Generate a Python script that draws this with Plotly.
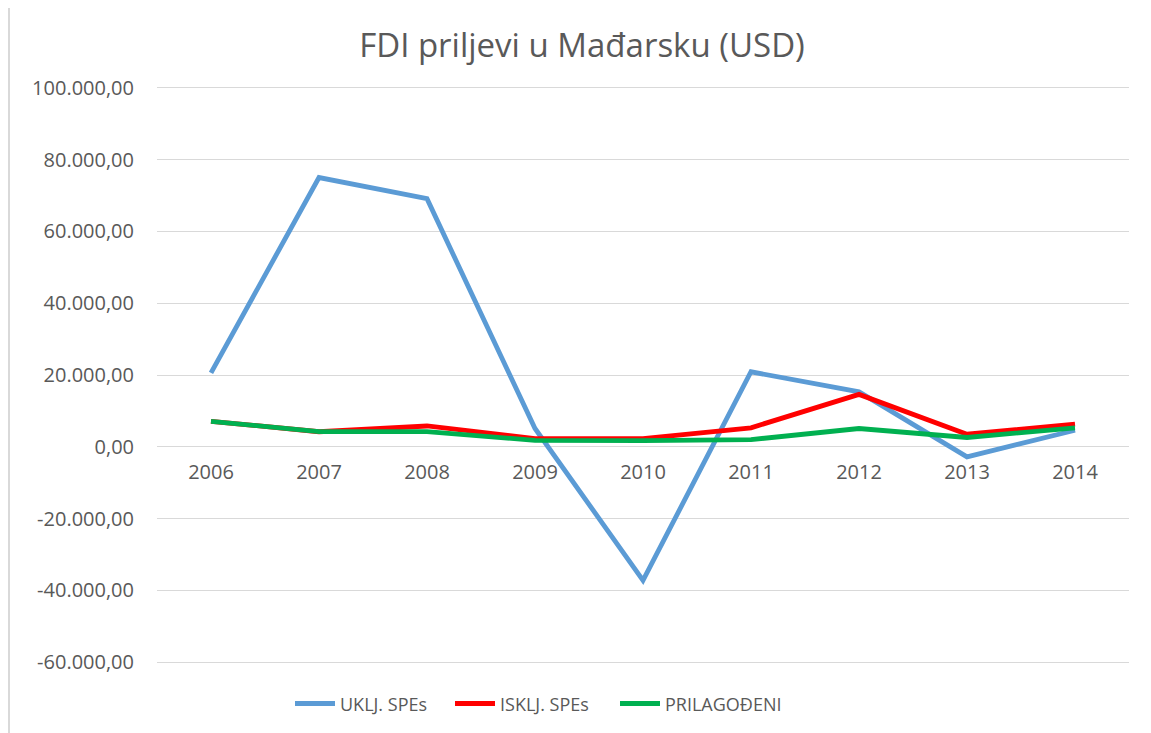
import plotly.graph_objs as go

years = ['2006', '2007', '2008', '2009', '2010', '2011', '2012', '2013', '2014']

uklj_spes = [20600, 75000, 69100, 5100, -37200, 20900, 15300, -2800, 4600]
isklj_spes = [7100, 4200, 5800, 2300, 2300, 5300, 14600, 3500, 6300]
prilagodjeni = [7100, 4200, 4200, 1800, 1700, 2000, 5100, 2600, 5300]

series_names = ['UKLJ. SPEs', 'ISKLJ. SPEs', 'PRILAGOĐENI']
series_colors = ['#5B9BD5', '#FF0000', '#00B050']

y_tickvals = [-60000, -40000, -20000, 0, 20000, 40000, 60000, 80000, 100000]


def fmt(v):
    # 100.000,00 style
    s = '{:,.2f}'.format(v)
    return s.replace(',', 'X').replace('.', ',').replace('X', '.')


y_ticktext = [fmt(v) for v in y_tickvals]

font_family = 'Open Sans, DejaVu Sans, sans-serif'
grey = '#595959'

# one legend per series so the entries can be spaced like the original
legend_ids = ['legend', 'legend2', 'legend3']
legend_left_px = [290, 450, 615]

traces = []
for name, vals, col, lg in zip(series_names, [uklj_spes, isklj_spes, prilagodjeni], series_colors, legend_ids):
    traces.append(go.Scatter(x=years, y=vals, name=name, mode='lines', legend=lg,
                             line=dict(color=col, width=4.8)))

# small padding so the end gridlines are not clipped
pad = 500
ymin, ymax = -60000 - pad, 100000 + pad
px_per_unit = 574 / 160000
pad_px = pad * px_per_unit
plot_h = 574 + 2 * pad_px

# page body adds 8px offset, so margins are compensated
layout = go.Layout(
    width=1143, height=725,
    paper_bgcolor='white', plot_bgcolor='white',
    margin=dict(l=149, r=22, t=80 - pad_px, b=71 - pad_px, autoexpand=False),
    title=dict(text='FDI priljevi u Mađarsku (USD)', x=(582 - 8) / 1143, xanchor='center',
               y=1 - 37 / 725, yanchor='middle',
               font=dict(family=font_family, size=33, color=grey)),
    xaxis=dict(type='category', range=[-0.5, 8.5], anchor='free',
               position=(0 - ymin) / (ymax - ymin),
               showgrid=False, zeroline=False, showline=False, ticks='',
               ticklabelstandoff=11,
               tickfont=dict(family=font_family, size=20, color=grey)),
    yaxis=dict(range=[ymin, ymax], tickmode='array', tickvals=y_tickvals, ticktext=y_ticktext,
               showgrid=True, gridcolor='#D9D9D9', gridwidth=1.3, zeroline=False,
               showline=False, ticks='', ticklabelstandoff=22,
               tickfont=dict(family=font_family, size=20, color=grey)),
    showlegend=True,
    shapes=[dict(type='line', xref='paper', yref='paper',
                 x0=(9 - 157) / 972, x1=(9 - 157) / 972, y0=-0.2, y1=1.2,
                 line=dict(color='#D9D9D9', width=2))],
)

for lg, left in zip(legend_ids, legend_left_px):
    layout[lg] = dict(orientation='h', x=(left - 157) / 972, xanchor='left',
                      y=-(38 + pad_px) / plot_h, yanchor='middle',
                      font=dict(family=font_family, size=18, color=grey), itemwidth=40)

fig = go.Figure(data=traces, layout=layout)
fig.write_html("out.html")
